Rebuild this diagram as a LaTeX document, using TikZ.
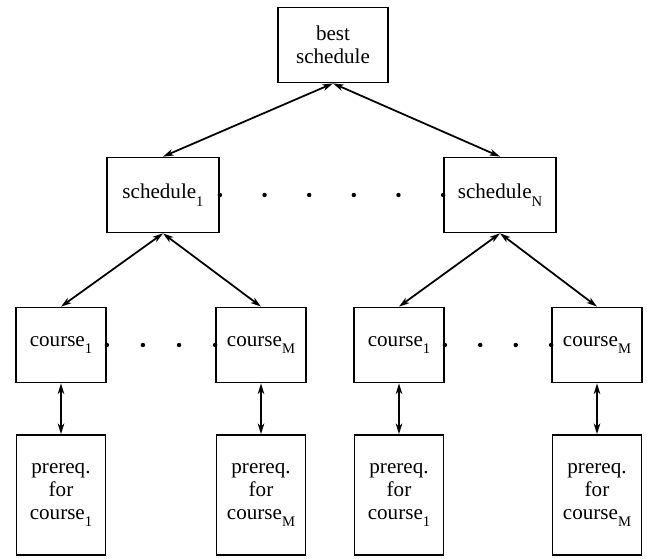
\documentclass[tikz,border=0pt]{standalone}
\usepackage{fontspec}
\setmainfont{Liberation Serif}
\usepackage{tikz}
\usetikzlibrary{arrows.meta}

\newcommand{\lowsub}[1]{\raisebox{-0.8ex}{\fontsize{12.5}{12.5}\selectfont #1}}

\begin{document}
\begin{tikzpicture}[<->,>={Stealth[length=9pt,width=5.5pt,inset=2.5pt]},node distance=4.5cm,
  line width=1.5pt,
  main node/.style={draw,align=center,inner sep=0pt,minimum height=2.25cm,
    font=\fontsize{18}{19.5}\selectfont},
  top node/.style={main node,minimum width=3.3cm},
  sched node/.style={main node,minimum width=3.36cm},
  course node/.style={main node,minimum width=2.7cm},
  prereq node/.style={main node,minimum width=2.67cm,minimum height=3.6cm},
  dotmark/.style={circle,fill,inner sep=0pt,minimum size=3.8pt}]

  \useasboundingbox (-9.99,1.35) rectangle (9.42,-15.39);

  \node[top node] (best) {best\\schedule};
  \node[sched node] (s1) [below of=best,xshift=-5.1cm] {schedule\lowsub{1}};
  \node[sched node] (sN) [below of=best,xshift=5.01cm] {schedule\lowsub{N}};

  \node[course node] (c1a) [below of=s1,xshift=-3.06cm] {course\lowsub{1}};
  \node[course node] (cMa) [below of=s1,xshift=2.94cm] {course\lowsub{M}};
  \node[course node] (c1b) [below of=sN,xshift=-3.03cm] {course\lowsub{1}};
  \node[course node] (cMb) [below of=sN,xshift=2.91cm] {course\lowsub{M}};

  \node[prereq node] (p1a) [below of=c1a] {prereq.\\for\\course\lowsub{1}};
  \node[prereq node] (pMa) [below of=cMa] {prereq.\\for\\course\lowsub{M}};
  \node[prereq node] (p1b) [below of=c1b] {prereq.\\for\\course\lowsub{1}};
  \node[prereq node] (pMb) [below of=cMb] {prereq.\\for\\course\lowsub{M}};

  \path
    (best.south) edge (s1.north)
    (best.south) edge (sN.north)
    (s1.south) edge (c1a.north)
    (s1.south) edge (cMa.north)
    (sN.south) edge (c1b.north)
    (sN.south) edge (cMb.north)
    (c1a) edge (p1a)
    (cMa) edge (pMa)
    (c1b) edge (p1b)
    (cMb) edge (pMb);

  % the dotted gaps
  \foreach \p in {0,0.2,0.4,0.6,0.8,1}
    \path (s1.east) -- (sN.west) node[dotmark,pos=\p] {};
  \foreach \p in {0,0.333,0.667,1} {
    \path (c1a.east) -- (cMa.west) node[dotmark,pos=\p] {};
    \path (c1b.east) -- (cMb.west) node[dotmark,pos=\p] {};
  }
\end{tikzpicture}
\end{document}
